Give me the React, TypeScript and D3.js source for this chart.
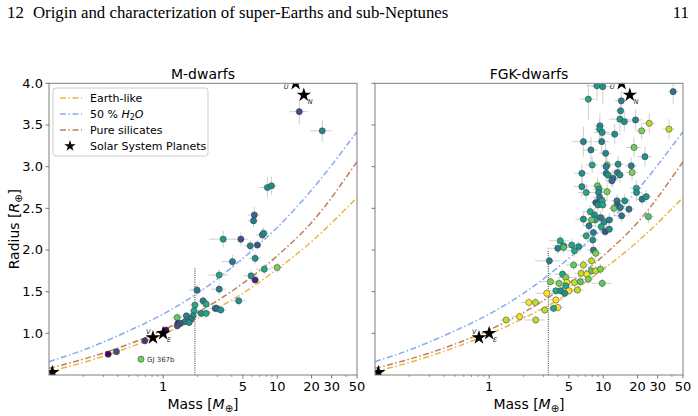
import React from "react";
import * as d3 from "d3";

// [mass, radius, colour value (viridis 0-1), mass err (fraction), radius err]
const mDwarfPlanets: [number, number, number, number, number][] = [
  [15.6, 3.66, 0.25, 0.18, 0.15],
  [24.8, 3.43, 0.45, 0.22, 0.13],
  [8.2, 2.75, 0.5, 0.15, 0.12],
  [8.9, 2.77, 0.48, 0.12, 0.11],
  [6.3, 2.42, 0.33, 0.12, 0.1],
  [6.2, 2.35, 0.4, 0.1, 0.08],
  [7.4, 2.18, 0.5, 0.12, 0.08],
  [7.6, 2.2, 0.45, 0.1, 0.07],
  [3.36, 2.13, 0.55, 0.25, 0.1],
  [4.8, 2.13, 0.25, 0.15, 0.08],
  [5.8, 2.05, 0.42, 0.12, 0.07],
  [6.7, 2.06, 0.28, 0.1, 0.06],
  [4.05, 1.86, 0.4, 0.2, 0.08],
  [6.4, 1.9, 0.5, 0.12, 0.07],
  [3.1, 1.7, 0.6, 0.2, 0.07],
  [5.9, 1.69, 0.5, 0.15, 0.06],
  [7.7, 1.77, 0.6, 0.15, 0.06],
  [10.0, 1.79, 0.8, 0.12, 0.06],
  [6.4, 1.64, 0.1, 0.08, 0.05],
  [3.1, 1.53, 0.42, 0.15, 0.07],
  [1.98, 1.52, 0.4, 0.15, 0.07],
  [4.6, 1.39, 0.5, 0.15, 0.06],
  [2.24, 1.39, 0.42, 0.1, 0.05],
  [1.9, 1.34, 0.6, 0.1, 0.05],
  [2.38, 1.35, 0.6, 0.1, 0.05],
  [2.86, 1.3, 0.42, 0.12, 0.05],
  [2.95, 1.3, 0.35, 0.1, 0.05],
  [3.2, 1.28, 0.5, 0.12, 0.05],
  [1.87, 1.27, 0.6, 0.1, 0.05],
  [2.15, 1.24, 0.5, 0.1, 0.05],
  [2.38, 1.24, 0.6, 0.1, 0.05],
  [1.83, 1.21, 0.5, 0.08, 0.04],
  [1.6, 1.21, 0.42, 0.1, 0.04],
  [1.33, 1.19, 0.75, 0.1, 0.05],
  [1.76, 1.17, 0.42, 0.08, 0.04],
  [1.56, 1.14, 0.42, 0.1, 0.04],
  [1.69, 1.13, 0.5, 0.1, 0.04],
  [1.35, 1.12, 0.1, 0.08, 0.04],
  [1.41, 1.12, 0.25, 0.08, 0.04],
  [1.33, 1.09, 0.25, 0.08, 0.04],
  [1.06, 1.04, 0.02, 0.06, 0.03],
  [0.69, 0.91, 0.15, 0.06, 0.03],
  [0.39, 0.78, 0.25, 0.05, 0.03],
  [0.33, 0.75, 0.03, 0.05, 0.03],
  [0.64, 0.69, 0.78, 0.0, 0.0],
];

const fgkPlanets: [number, number, number, number, number][] = [
  [8.8, 3.97, 0.55, 0.2, 0.18],
  [9.9, 3.96, 0.5, 0.2, 0.2],
  [7.4, 3.81, 0.6, 0.15, 0.25],
  [14.4, 3.79, 0.42, 0.12, 0.12],
  [41, 3.9, 0.38, 0.1, 0.15],
  [14.2, 3.67, 0.5, 0.1, 0.1],
  [14.0, 3.57, 0.55, 0.2, 0.15],
  [15.3, 3.54, 0.5, 0.15, 0.12],
  [19.2, 3.56, 0.45, 0.15, 0.12],
  [25.3, 3.52, 0.88, 0.12, 0.12],
  [21.7, 3.43, 0.8, 0.12, 0.1],
  [37.7, 3.45, 0.9, 0.12, 0.12],
  [9.35, 3.49, 0.5, 0.1, 0.15],
  [9.3, 3.45, 0.55, 0.1, 0.12],
  [9.8, 3.41, 0.5, 0.15, 0.12],
  [12.6, 3.39, 0.5, 0.15, 0.12],
  [6.7, 3.3, 0.45, 0.2, 0.18],
  [9.7, 3.3, 0.42, 0.15, 0.15],
  [7.8, 3.2, 0.42, 0.15, 0.15],
  [10.5, 3.16, 0.45, 0.12, 0.12],
  [18.6, 3.23, 0.78, 0.15, 0.12],
  [23.2, 3.12, 0.5, 0.15, 0.12],
  [8.0, 3.02, 0.6, 0.12, 0.1],
  [10.8, 3.02, 0.78, 0.12, 0.1],
  [10.6, 3.0, 0.45, 0.1, 0.1],
  [13.5, 3.03, 0.5, 0.12, 0.1],
  [17.6, 3.01, 0.42, 0.12, 0.1],
  [17.9, 2.93, 0.8, 0.12, 0.1],
  [6.5, 2.92, 0.5, 0.15, 0.12],
  [10.6, 2.92, 0.42, 0.12, 0.1],
  [11.0, 2.9, 0.5, 0.1, 0.1],
  [13.3, 2.93, 0.42, 0.12, 0.1],
  [14.0, 2.9, 0.5, 0.1, 0.1],
  [12.2, 2.86, 0.4, 0.12, 0.1],
  [11.9, 2.83, 0.35, 0.1, 0.08],
  [6.5, 2.76, 0.5, 0.15, 0.12],
  [8.9, 2.77, 0.75, 0.12, 0.1],
  [9.2, 2.73, 0.6, 0.12, 0.1],
  [7.1, 2.69, 0.6, 0.15, 0.1],
  [9.1, 2.69, 0.5, 0.12, 0.1],
  [10.8, 2.7, 0.8, 0.1, 0.1],
  [19.5, 2.74, 0.6, 0.12, 0.1],
  [19.6, 2.69, 0.5, 0.12, 0.1],
  [9.3, 2.63, 0.42, 0.12, 0.08],
  [9.8, 2.59, 0.6, 0.12, 0.08],
  [8.6, 2.57, 0.28, 0.1, 0.08],
  [9.0, 2.54, 0.5, 0.1, 0.08],
  [9.9, 2.54, 0.6, 0.1, 0.08],
  [13.2, 2.59, 0.42, 0.12, 0.08],
  [15.4, 2.59, 0.5, 0.12, 0.08],
  [13.3, 2.54, 0.3, 0.1, 0.08],
  [14.1, 2.51, 0.42, 0.1, 0.08],
  [12.4, 2.5, 0.78, 0.1, 0.08],
  [16.8, 2.49, 0.38, 0.12, 0.08],
  [21.9, 2.61, 0.4, 0.12, 0.08],
  [23.8, 2.64, 0.5, 0.12, 0.08],
  [7.7, 2.46, 0.6, 0.15, 0.08],
  [8.4, 2.42, 0.5, 0.12, 0.08],
  [8.5, 2.36, 0.6, 0.12, 0.08],
  [7.9, 2.36, 0.78, 0.12, 0.08],
  [9.5, 2.39, 0.4, 0.12, 0.08],
  [10.2, 2.34, 0.5, 0.12, 0.08],
  [11.3, 2.36, 0.42, 0.1, 0.08],
  [14.5, 2.41, 0.38, 0.12, 0.08],
  [6.7, 2.37, 0.5, 0.15, 0.08],
  [24.9, 2.4, 0.72, 0.12, 0.08],
  [7.5, 2.29, 0.42, 0.12, 0.08],
  [9.6, 2.28, 0.6, 0.12, 0.08],
  [10.4, 2.22, 0.25, 0.1, 0.06],
  [11.3, 2.25, 0.5, 0.1, 0.06],
  [8.2, 2.21, 0.42, 0.12, 0.06],
  [7.1, 2.17, 0.6, 0.12, 0.06],
  [8.1, 2.12, 0.5, 0.12, 0.06],
  [4.2, 2.11, 0.6, 0.2, 0.07],
  [4.5, 2.05, 0.6, 0.2, 0.07],
  [4.0, 2.02, 0.42, 0.2, 0.07],
  [4.5, 2.03, 0.72, 0.15, 0.07],
  [5.3, 2.06, 0.6, 0.15, 0.07],
  [6.1, 2.04, 0.5, 0.15, 0.07],
  [5.6, 1.99, 0.6, 0.15, 0.07],
  [8.2, 2.0, 0.42, 0.12, 0.07],
  [8.6, 1.96, 0.8, 0.12, 0.06],
  [3.37, 1.87, 0.42, 0.25, 0.06],
  [5.5, 1.82, 0.75, 0.15, 0.06],
  [7.9, 1.87, 0.9, 0.12, 0.06],
  [6.7, 1.82, 0.9, 0.12, 0.06],
  [6.4, 1.72, 0.9, 0.12, 0.06],
  [7.2, 1.71, 1.0, 0.12, 0.06],
  [7.9, 1.75, 0.75, 0.12, 0.06],
  [8.6, 1.75, 0.92, 0.12, 0.06],
  [9.45, 1.77, 0.8, 0.12, 0.06],
  [4.4, 1.71, 0.6, 0.15, 0.06],
  [4.7, 1.67, 0.8, 0.15, 0.06],
  [4.8, 1.61, 1.0, 0.15, 0.06],
  [5.6, 1.61, 0.9, 0.15, 0.06],
  [6.3, 1.62, 0.75, 0.15, 0.06],
  [7.4, 1.65, 0.8, 0.12, 0.06],
  [9.8, 1.6, 0.75, 0.2, 0.06],
  [3.44, 1.62, 0.8, 0.2, 0.06],
  [4.1, 1.6, 0.8, 0.15, 0.06],
  [4.7, 1.57, 0.6, 0.15, 0.06],
  [5.95, 1.52, 0.9, 0.15, 0.05],
  [5.0, 1.51, 1.0, 0.15, 0.05],
  [3.85, 1.51, 0.6, 0.15, 0.05],
  [4.25, 1.51, 0.5, 0.15, 0.05],
  [4.6, 1.48, 0.5, 0.12, 0.05],
  [3.2, 1.48, 1.0, 0.2, 0.05],
  [3.85, 1.4, 1.0, 0.15, 0.05],
  [2.23, 1.37, 1.0, 0.15, 0.05],
  [2.55, 1.37, 0.9, 0.15, 0.05],
  [3.07, 1.28, 0.9, 0.15, 0.05],
  [4.0, 1.31, 1.0, 0.12, 0.05],
  [3.67, 1.3, 0.6, 0.12, 0.05],
  [1.85, 1.2, 0.98, 0.15, 0.05],
  [1.41, 1.16, 0.9, 0.12, 0.04],
  [2.56, 1.16, 0.9, 0.2, 0.05],
];

// Solar System planets: name label, mass, radius
const solarNames = ["", "V", "E", "U", "N"];
const solarMass = [0.107, 0.815, 1.0, 14.5, 17.1];
const solarRadius = [0.532, 0.949, 1.0, 4.0, 3.86];

// mass-radius composition curves
const curveMass = [0.1, 0.2, 0.5, 1, 2, 5, 10, 20, 50];
const earthLike = [0.54, 0.65, 0.83, 0.99, 1.18, 1.48, 1.77, 2.1, 2.63];
const pureSilicates = [0.58, 0.69, 0.87, 1.04, 1.25, 1.6, 1.93, 2.33, 3.06];
const water50 = [0.66, 0.8, 1.03, 1.23, 1.48, 1.9, 2.27, 2.72, 3.42];

const majorTicks = [1, 5, 10, 20, 30, 50];
const minorTicks = [0.2, 0.3, 0.4, 0.5, 0.6, 0.7, 0.8, 0.9, 2, 3, 4, 6, 7, 8, 9, 40];
const radiusTicks = [1.0, 1.5, 2.0, 2.5, 3.0, 3.5, 4.0];

const curves = [
  { name: "Earth-like", values: earthLike, color: "#ebb543" },
  { name: "50 % H2O", values: water50, color: "#86aaf0" },
  { name: "Pure silicates", values: pureSilicates, color: "#bf7f5b" },
];

const FONT = "DejaVu Sans, sans-serif";
const SERIF = "Liberation Serif, Times New Roman, serif";
const top = 83.3;
const bottom = 375;
const panelW = 308;

const y = d3.scaleLinear().domain([0.5, 4.0]).range([bottom, top]);

const starPath = d3.symbol(d3.symbolStar, 64)() || "";

function Panel({
  x0, title, data, split, labels, clipId, legend,
}: {
  x0: number; title: string; data: [number, number, number, number, number][];
  split: number; labels: boolean; clipId: string; legend: boolean;
}) {
  const x = d3.scaleLog().domain([0.1, 50]).range([x0, x0 + panelW]);
  const line = d3
    .line<number>()
    .x((_, i) => x(curveMass[i]))
    .y((d) => y(d))
    .curve(d3.curveMonotoneX);
  const cx = x0 + panelW / 2;
  return (
    <g>
      <text x={cx} y={79} textAnchor="middle" fontSize={14} fontFamily={FONT}>{title}</text>
      <defs>
        <clipPath id={clipId}>
          <rect x={x0} y={top} width={panelW} height={bottom - top} />
        </clipPath>
      </defs>
      <g clipPath={`url(#${clipId})`}>
        {curves.map((c) => (
          <path key={c.name} d={line(c.values) || ""} fill="none" stroke={c.color}
            strokeWidth={1.5} strokeDasharray="6,2.5,1.5,2.5" />
        ))}
        <line x1={x(split)} x2={x(split)} y1={bottom} y2={y(labels ? 1.78 : 1.99)}
          stroke="#222" strokeWidth={0.9} strokeDasharray="1,1.2" />
        {data.filter((d) => d[3] > 0).map((d, i) => (
          <g key={"e" + i} stroke="#cfcfcf" strokeWidth={1}>
            <line x1={x(d[0] * (1 - d[3]))} x2={x(d[0] * (1 + d[3]))} y1={y(d[1])} y2={y(d[1])} />
            <line x1={x(d[0])} x2={x(d[0])} y1={y(d[1] - d[4])} y2={y(d[1] + d[4])} />
          </g>
        ))}
        {data.map((d, i) => (
          <circle key={"p" + i} cx={x(d[0])} cy={y(d[1])} r={3.1}
            fill={d3.interpolateViridis(d[2])} stroke="#3a3a3a" strokeWidth={0.5} />
        ))}
        {solarMass.map((m, i) => (
          <path key={"s" + i} d={starPath} transform={`translate(${x(m)},${y(solarRadius[i])})`} fill="#000" />
        ))}
      </g>
      {solarMass.map((m, i) => {
        const n = solarNames[i];
        if (!n) return null;
        const off: Record<string, [number, number]> = { V: [-7, -4], E: [4, 9], U: [-12, 6], N: [4, 9] };
        return (
          <text key={"l" + i} x={x(m) + off[n][0]} y={y(solarRadius[i]) + off[n][1]}
            fontSize={6.5} fontStyle="italic" fontFamily={FONT} fill="#222">{n}</text>
        );
      })}
      {labels && (
        <text x={x(0.64) + 6} y={y(0.69) + 3} fontSize={7} fontFamily={FONT} fill="#333">GJ 367b</text>
      )}
      <rect x={x0} y={top} width={panelW} height={bottom - top} fill="none" stroke="#7f7f7f" strokeWidth={1} />
      {radiusTicks.map((t) => (
        <g key={"y" + t}>
          <line x1={x0 - 3.5} x2={x0} y1={y(t)} y2={y(t)} stroke="#555" strokeWidth={0.8} />
          {labels && (
            <text x={x0 - 6} y={y(t) + 4.5} textAnchor="end" fontSize={13} fontFamily={FONT}>{t.toFixed(1)}</text>
          )}
        </g>
      ))}
      {majorTicks.map((t) => (
        <g key={"x" + t}>
          <line x1={x(t)} x2={x(t)} y1={bottom} y2={bottom + 3.5} stroke="#555" strokeWidth={0.8} />
          <text x={x(t)} y={bottom + 16} textAnchor="middle" fontSize={13} fontFamily={FONT}>{t}</text>
        </g>
      ))}
      {minorTicks.map((t) => (
        <line key={"m" + t} x1={x(t)} x2={x(t)} y1={bottom} y2={bottom + 2} stroke="#555" strokeWidth={0.6} />
      ))}
      <text x={cx} y={409} textAnchor="middle" fontSize={14} fontFamily={FONT}>
        Mass [<tspan fontStyle="italic">M</tspan><tspan fontSize={10} dy={3}>⊕</tspan><tspan dy={-3}>]</tspan>
      </text>
      {legend && (
        <g>
          <rect x={53} y={88} width={155} height={68} rx={3} fill="#fff" fillOpacity={0.9} stroke="#cccccc" strokeWidth={1} />
          {curves.map((c, i) => (
            <g key={c.name}>
              <line x1={60} x2={82} y1={98 + i * 16} y2={98 + i * 16} stroke={c.color} strokeWidth={1.5} strokeDasharray="6,2.5,1.5,2.5" />
              <text x={90} y={102 + i * 16} fontSize={11} fontFamily={FONT}>
                {i === 1 ? (
                  <>50 % <tspan fontStyle="italic">H</tspan><tspan fontSize={8} dy={2}>2</tspan><tspan dy={-2} fontStyle="italic">O</tspan></>
                ) : c.name}
              </text>
            </g>
          ))}
          <path d={d3.symbol(d3.symbolStar, 40)() || ""} transform="translate(70,146)" fill="#000" />
          <text x={90} y={150} fontSize={11} fontFamily={FONT}>Solar System Planets</text>
        </g>
      )}
    </g>
  );
}

export default function App() {
  return (
    <svg width={698} height={416} style={{ position: "absolute", left: 0, top: 0, background: "#fff" }}>
      <text x={7} y={18} fontSize={16.8} fontFamily={SERIF}>12</text>
      <text x={33} y={18} fontSize={16.8} fontFamily={SERIF}>Origin and characterization of super-Earths and sub-Neptunes</text>
      <text x={689} y={18} fontSize={16.8} textAnchor="end" fontFamily={SERIF}>11</text>
      <text transform={`translate(19,${(top + bottom) / 2}) rotate(-90)`} textAnchor="middle" fontSize={14} fontFamily={FONT}>
        Radius [<tspan fontStyle="italic">R</tspan><tspan fontSize={10} dy={3}>⊕</tspan><tspan dy={-3}>]</tspan>
      </text>
      <Panel x0={49} title="M-dwarfs" data={mDwarfPlanets} split={1.9} labels={true} clipId="c1" legend={true} />
      <Panel x0={375} title="FGK-dwarfs" data={fgkPlanets} split={3.3} labels={false} clipId="c2" legend={false} />
    </svg>
  );
}
